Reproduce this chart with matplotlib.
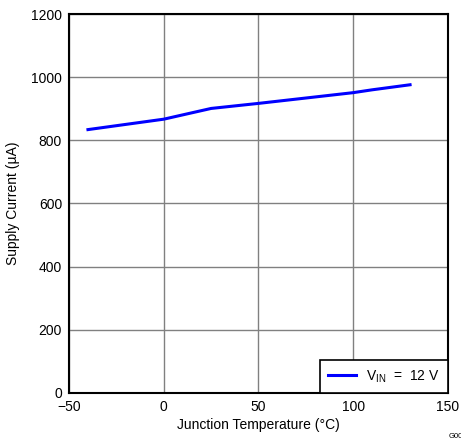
import matplotlib.pyplot as plt

plt.rcParams['font.family'] = ['Liberation Sans', 'DejaVu Sans']

# Supply current vs junction temperature, VIN = 12 V
temp = [-40, 0, 25, 50, 75, 100, 110, 130]
current = [834, 867, 901, 917, 934, 951, 960, 976]

xticks = [-50, 0, 50, 100, 150]
yticks = [0, 200, 400, 600, 800, 1000, 1200]

fig = plt.figure(figsize=(4.61, 4.45), dpi=100)
ax = fig.add_axes([0.1497, 0.1169, 0.822, 0.8516])

line, = ax.plot(temp, current, color="blue", linewidth=2.2)

ax.set_xlim(-50, 150)
ax.set_ylim(0, 1200)
ax.set_xticks(xticks)
ax.set_yticks(yticks)
ax.set_xticklabels(["\u221250", "0", "50", "100", "150"])
ax.tick_params(length=0, labelsize=10, pad=5)
ax.grid(True, color="#808080", linewidth=1)
ax.set_axisbelow(True)
for s in ax.spines.values():
    s.set_linewidth(1.5)

ax.set_xlabel("Junction Temperature (\u00b0C)", fontsize=10, labelpad=3)
ax.set_ylabel("Supply Current (\u00b5A)", fontsize=10, labelpad=8)

leg = ax.legend([line], ["V$_{\\mathregular{IN}}$  =  12 V"], loc="lower right",
                fontsize=10, fancybox=False, framealpha=1, edgecolor="black",
                borderaxespad=0, handlelength=2.0, handletextpad=0.75,
                borderpad=0.6)
leg.get_frame().set_linewidth(1.2)

fig.text(0.973, 0.012, "G001", fontsize=5.5, ha="left", va="bottom")

fig.savefig("out.png", dpi=100)
